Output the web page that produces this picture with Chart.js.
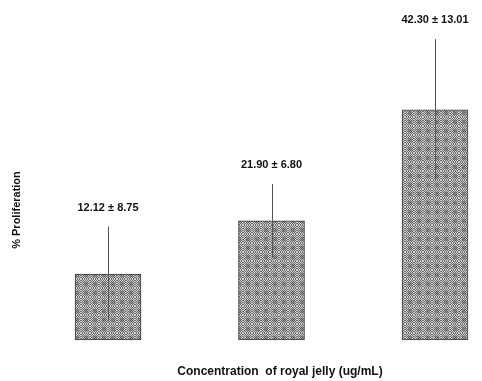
<!DOCTYPE html>
<html>
<head>
<meta charset="utf-8">
<script src="https://cdn.jsdelivr.net/npm/chart.js@4.4.1/dist/chart.umd.min.js"></script>
<style>
  html, body { margin: 0; padding: 0; background: #ffffff; }
  #wrap { width: 482px; height: 381px; position: relative; }
</style>
</head>
<body>
<div id="wrap"><canvas id="chart" width="482" height="381"></canvas></div>
<script>
// Royal jelly concentrations (three doses) and the measured proliferation
const categories = ['Dose 1', 'Dose 2', 'Dose 3'];
const proliferation = [12.12, 21.90, 42.30];
const stdDev = [8.75, 6.80, 13.01];

const FONT = "'Liberation Sans', Arial, sans-serif";

// Fine checkered fill with darker blocks, used for every bar
function makePattern() {
  const size = 9;
  const c = document.createElement('canvas');
  c.width = size; c.height = size;
  const g = c.getContext('2d');
  for (let y = 0; y < size; y++) {
    for (let x = 0; x < size; x++) {
      let col;
      if (x >= 3 && x <= 6 && y >= 3 && y <= 6) {
        col = ((x + y) % 2) ? '#5e5e5e' : '#9a9a9a';
      } else {
        col = ((x + y) % 2) ? '#6a6a6a' : '#d2d2d2';
      }
      g.fillStyle = col;
      g.fillRect(x, y, 1, 1);
    }
  }
  return document.getElementById('chart').getContext('2d').createPattern(c, 'repeat');
}

// Error bars (mean ± SD) and the value labels above them
const errorBarPlugin = {
  id: 'errorBars',
  afterDatasetsDraw(chart) {
    const ctx = chart.ctx;
    const meta = chart.getDatasetMeta(0);
    const yScale = chart.scales.y;
    ctx.save();
    meta.data.forEach((bar, i) => {
      const v = proliferation[i], e = stdDev[i];
      const yTop = yScale.getPixelForValue(v + e);
      const yLow = yScale.getPixelForValue(Math.max(0, v - e));
      const x = Math.round(bar.x) + 0.5;
      ctx.strokeStyle = '#555555';
      ctx.lineWidth = 1;
      ctx.beginPath();
      ctx.moveTo(x, yTop);
      ctx.lineTo(x, yLow);
      ctx.stroke();

      ctx.fillStyle = '#111111';
      ctx.font = 'bold 11px ' + FONT;
      ctx.textAlign = 'center';
      ctx.textBaseline = 'middle';
      ctx.fillText(v.toFixed(2) + ' \u00B1 ' + e.toFixed(2), bar.x, yTop - 19);
    });
    ctx.restore();
  }
};

new Chart(document.getElementById('chart'), {
  type: 'bar',
  data: {
    labels: categories,
    datasets: [{
      label: '% Proliferation',
      data: categories.map((c, i) => ({ x: i, y: proliferation[i] })),
      backgroundColor: makePattern(),
      borderColor: '#3c3c3c',
      borderWidth: 1,
      borderSkipped: false,
      barThickness: 66,
      clip: false
    }]
  },
  options: {
    responsive: false,
    animation: false,
    events: [],
    layout: { padding: { left: 0, right: 14, top: 80, bottom: 0 } },
    plugins: {
      legend: { display: false },
      tooltip: { enabled: false }
    },
    scales: {
      x: {
        type: 'linear',
        min: -0.0979,
        max: 2.2018,
        offset: false,
        grid: { display: false },
        border: { display: false },
        ticks: { display: false },
        afterFit(scale) { scale.height = 41; },
        title: {
          display: true,
          text: 'Concentration  of royal jelly (ug/mL)',
          color: '#111111',
          font: { family: FONT, size: 12, weight: 'bold' },
          padding: { top: 0, bottom: 2 }
        }
      },
      y: {
        min: 0,
        max: 47.8,
        grid: { display: false },
        border: { display: false },
        ticks: { display: false },
        afterFit(scale) { scale.width = 92; },
        title: {
          display: true,
          text: '% Proliferation',
          color: '#111111',
          font: { family: FONT, size: 11, weight: 'bold' },
          padding: { top: 10, bottom: 0 }
        }
      }
    }
  },
  plugins: [errorBarPlugin]
});
</script>
</body>
</html>
